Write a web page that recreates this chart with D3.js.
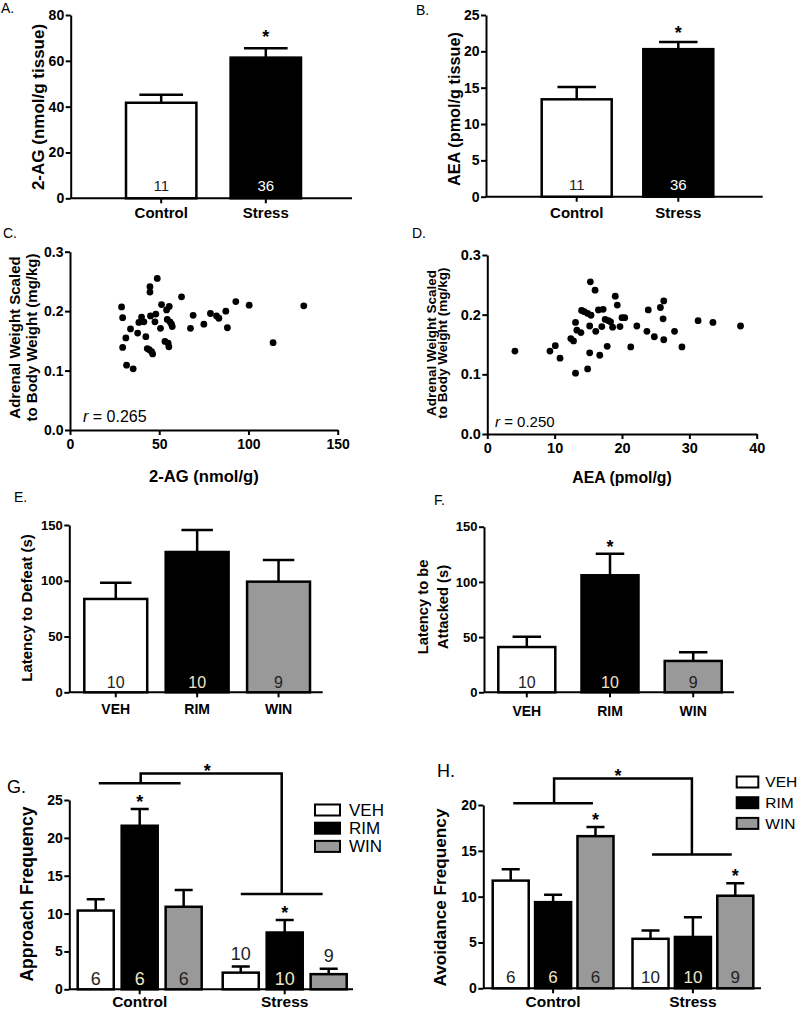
<!DOCTYPE html>
<html lang="en">
<head>
<meta charset="UTF-8">
<title>Endocannabinoids, adrenal weight and social defeat behaviour</title>
<style>
  body { margin: 0; background: #fff; }
  svg { display: block; font-family: "Liberation Sans", Arial, sans-serif; }
</style>
</head>
<body>
<div id="figure"></div>
<script src="https://d3js.org/d3.v7.min.js"></script>
<script>
// ---- values ----
const groups = ["Control", "Stress"];
const drugs = ["VEH", "RIM", "WIN"];

// A. 2-AG (nmol/g tissue)
const agMean = [41.7, 61.4];
const agSem = [3.5, 4.1];
const agN = [11, 36];
const agSig = [false, true];

// B. AEA (pmol/g tissue)
const aeaMean = [13.4, 20.3];
const aeaSem = [1.7, 1.0];
const aeaN = [11, 36];
const aeaSig = [false, true];

// C. adrenal weight vs 2-AG
const agX = [28.9, 29.5, 29.5, 31.3, 31.7, 33.9, 35.4, 37.9, 38.6, 40.1, 41.4, 42.5, 43.3, 44.4, 44.8, 44.8,
  45.1, 45.7, 46.3, 47.6, 48.1, 48.9, 50.7, 51.3, 53.2, 54.1, 54.5, 55.0, 55.4, 55.6, 56.0, 56.9, 57.3,
  62.5, 67.5, 69.0, 75.0, 78.7, 82.1, 83.4, 87.3, 88.2, 92.9, 100.4, 113.8, 131.0];
const agAdrenal = [0.207, 0.189, 0.139, 0.155, 0.109, 0.170, 0.103, 0.163, 0.181, 0.190, 0.182, 0.157, 0.137, 0.135, 0.241, 0.232,
  0.192, 0.132, 0.128, 0.182, 0.195, 0.255, 0.171, 0.211, 0.149, 0.202, 0.186, 0.146, 0.140, 0.208, 0.182, 0.178, 0.174,
  0.224, 0.171, 0.193, 0.178, 0.196, 0.192, 0.188, 0.200, 0.172, 0.216, 0.210, 0.147, 0.209];

// D. adrenal weight vs AEA
const aeaX = [4.1, 9.3, 10.1, 10.8, 12.4, 12.8, 13.1, 13.1, 13.3, 13.9, 14.0, 14.4, 14.9, 14.9, 15.2, 15.2,
  15.3, 15.4, 16.0, 16.1, 16.5, 16.7, 17.0, 17.2, 17.5, 17.8, 18.0, 18.3, 18.6, 19.0, 19.3, 19.7, 20.0,
  20.4, 21.3, 22.2, 23.7, 23.9, 24.8, 25.7, 26.1, 26.2, 26.2, 27.8, 28.9, 31.3, 33.5, 37.6];
const aeaAdrenal = [0.139, 0.139, 0.148, 0.127, 0.160, 0.156, 0.187, 0.102, 0.174, 0.170, 0.207, 0.205, 0.109, 0.202, 0.181, 0.136,
  0.255, 0.199, 0.241, 0.172, 0.208, 0.132, 0.180, 0.209, 0.192, 0.147, 0.190, 0.188, 0.179, 0.231, 0.216, 0.180, 0.195,
  0.195, 0.146, 0.181, 0.172, 0.208, 0.163, 0.212, 0.193, 0.223, 0.158, 0.172, 0.146, 0.190, 0.187, 0.181];

// E. latency to defeat (s)
const defeatMean = [83.7, 125.8, 99.2];
const defeatSem = [14.6, 19.7, 19.4];
const defeatN = [10, 10, 9];
const defeatSig = [false, false, false];

// F. latency to be attacked (s)
const attackMean = [41.0, 106.0, 28.4];
const attackSem = [9.4, 19.6, 7.8];
const attackN = [10, 10, 9];
const attackSig = [false, true, false];

// G. approach frequency
const approachMean = { Control: [10.4, 21.6, 10.9], Stress: [2.2, 7.5, 2.0] };
const approachSem = { Control: [1.5, 2.2, 2.2], Stress: [0.8, 1.65, 0.7] };
const approachN = { Control: [6, 6, 6], Stress: [10, 10, 9] };
const approachSig = { Control: [false, true, false], Stress: [false, true, false] };

// H. avoidance frequency
const avoidMean = { Control: [11.75, 9.4, 16.6], Stress: [5.4, 5.6, 10.1] };
const avoidSem = { Control: [1.25, 0.8, 1.0], Stress: [0.9, 2.15, 1.35] };
const avoidN = { Control: [6, 6, 6], Stress: [10, 10, 9] };
const avoidSig = { Control: [false, false, true], Stress: [false, false, true] };

// ---- drawing ----
const svg = d3.select("#figure").append("svg")
  .attr("width", 800)
  .attr("height", 1011);

const fills = { Control: "#fff", Stress: "#000", VEH: "#fff", RIM: "#000", WIN: "#999" };

function styleAxis(g, fs) {
  g.attr("font-family", null).attr("font-size", fs).attr("font-weight", "bold");
  g.select(".domain").attr("stroke", "#000").attr("stroke-width", 2);
  g.selectAll(".tick line").attr("stroke", "#000").attr("stroke-width", 2);
  g.selectAll(".tick text").attr("fill", "#000");
}

function yAxis(y, x, ticks, fmt, fs) {
  const g = svg.append("g")
    .attr("transform", `translate(${x},0)`)
    .call(d3.axisLeft(y).tickValues(ticks).tickFormat(fmt).tickSize(5).tickSizeOuter(0).tickPadding(1.5));
  styleAxis(g, fs);
}

function bandAxis(xs, x0, x1, yBase, fs, base) {
  const g = svg.append("g")
    .attr("transform", `translate(0,${yBase})`)
    .call(d3.axisBottom(xs).tickSize(5).tickSizeOuter(0));
  g.select(".domain").attr("d", `M${x0},0H${x1}`);
  styleAxis(g, fs);
  g.selectAll(".tick text").attr("y", base - yBase).attr("dy", 0);
}

function rotLabel(lines, xs, cy, fs) {
  lines.forEach((t, i) => svg.append("text")
    .attr("transform", `translate(${xs[i]},${cy}) rotate(-90)`)
    .attr("text-anchor", "middle")
    .attr("dy", "0.35em")
    .attr("font-size", fs)
    .attr("font-weight", "bold")
    .text(t));
}

function letter(t, x, y, fs) {
  svg.append("text").attr("x", x).attr("y", y).attr("font-size", fs).text(t);
}

// rows: {x, mean, sem, n, sig, fill}
function drawBars(rows, bw, y, o) {
  const g = svg.append("g");
  g.selectAll("path").data(rows).join("path")
    .attr("d", d => {
      const cx = d.x + bw / 2, c = bw * o.cap / 2, top = y(d.mean + d.sem);
      return `M${cx},${y(d.mean)}V${top}M${cx - c},${top}H${cx + c}`;
    })
    .attr("fill", "none").attr("stroke", "#000").attr("stroke-width", 2.5);

  g.selectAll("rect").data(rows).join("rect")
    .attr("x", d => d.x)
    .attr("y", d => y(d.mean))
    .attr("width", bw)
    .attr("height", d => y(0) - y(d.mean))
    .attr("fill", d => d.fill)
    .attr("stroke", "#000")
    .attr("stroke-width", 2.5);

  // group sizes sit inside the bar, or above it when the bar is too short
  g.selectAll(".n").data(rows).join("text")
    .attr("class", "n")
    .attr("x", d => d.x + bw / 2)
    .attr("y", d => (y(0) - y(d.mean) > 22) ? y(0) - o.nGap : y(d.mean + d.sem) - 7)
    .attr("text-anchor", "middle")
    .attr("font-size", o.nFs)
    .attr("fill", d => (d.fill === "#000" && y(0) - y(d.mean) > 22) ? o.darkText : "#222")
    .text(d => d.n);

  g.selectAll(".star").data(rows.filter(d => d.sig)).join("text")
    .attr("class", "star")
    .attr("x", d => d.x + bw / 2)
    .attr("y", d => y(d.mean + d.sem) - o.starGap)
    .attr("text-anchor", "middle")
    .attr("font-size", 18)
    .attr("font-weight", "bold")
    .text("*");
}

function barPanel(p) {
  const x = d3.scaleBand(p.cats, p.band).paddingInner(p.pad).paddingOuter(0);
  const y = d3.scaleLinear([0, p.max], [p.yBot, p.yTop]);
  yAxis(y, p.x0, p.ticks, d3.format("d"), p.tickFs);
  bandAxis(x, p.x0, p.x1, p.yBot, p.catFs, p.catBase);
  const rows = p.cats.map((c, i) => ({
    x: x(c), mean: p.mean[i], sem: p.sem[i], n: p.n[i], sig: p.sig[i], fill: fills[c]
  }));
  drawBars(rows, x.bandwidth(), y, p);
  rotLabel(p.yLabel, p.yLabelX, p.yLabelY, p.yLabelFs);
}

function groupedPanel(p) {
  const outer = d3.scaleBand(groups, p.band).paddingInner(p.pad).paddingOuter(0);
  const inner = d3.scaleBand(drugs, [0, outer.bandwidth()]).paddingInner(p.innerPad).paddingOuter(0);
  const y = d3.scaleLinear([0, p.max], [p.yBot, p.yTop]);
  yAxis(y, p.x0, p.ticks, d3.format("d"), p.tickFs);
  bandAxis(outer, p.x0, p.x1, p.yBot, p.catFs, p.catBase);
  const rows = groups.flatMap(g => drugs.map((dr, i) => ({
    x: outer(g) + inner(dr), mean: p.mean[g][i], sem: p.sem[g][i], n: p.n[g][i], sig: p.sig[g][i], fill: fills[dr]
  })));
  drawBars(rows, inner.bandwidth(), y, p);
  rotLabel(p.yLabel, p.yLabelX, p.yLabelY, p.yLabelFs);

  // interaction bracket between the two groups
  const cC = outer("Control") + outer.bandwidth() / 2;
  const cS = outer("Stress") + outer.bandwidth() / 2;
  const hw = outer.bandwidth() * 0.33;
  const b = p.bracket;
  svg.append("path")
    .attr("d", `M${cC - hw},${y(b.control)}H${cC + hw}M${cC + p.bkOff[0]},${y(b.control)}V${y(b.top)}H${cS + p.bkOff[1]}V${y(b.stress)}M${cS - hw + p.bkOff[1]},${y(b.stress)}H${cS + hw + p.bkOff[1]}`)
    .attr("fill", "none").attr("stroke", "#000").attr("stroke-width", 2.5);
  svg.append("text")
    .attr("x", (cC + cS) / 2 - 5)
    .attr("y", y(b.top) + 4)
    .attr("text-anchor", "middle")
    .attr("font-size", 18).attr("font-weight", "bold")
    .text("*");

  // legend
  const lg = svg.append("g").selectAll("g").data(drugs).join("g")
    .attr("transform", (d, i) => `translate(${p.legX},${p.legY + i * p.legStep})`);
  lg.append("rect")
    .attr("x", 0).attr("y", -5.5).attr("width", p.legW).attr("height", 11)
    .attr("fill", d => fills[d]).attr("stroke", "#000").attr("stroke-width", 2);
  lg.append("text")
    .attr("x", p.legW + p.legGap).attr("y", 0).attr("dy", "0.35em")
    .attr("font-size", p.legFs)
    .text(d => d);
}

function scatterPanel(p) {
  const x = d3.scaleLinear([0, p.xMax], [p.x0, p.x1]);
  const y = d3.scaleLinear([0, 0.3], [p.yBot, p.yTop]);
  yAxis(y, p.x0, [0, 0.1, 0.2, 0.3], d3.format(".1f"), p.tickFs);
  const gx = svg.append("g")
    .attr("transform", `translate(0,${p.yBot})`)
    .call(d3.axisBottom(x).tickValues(p.xTicks).tickSize(5).tickSizeOuter(0).tickPadding(4));
  styleAxis(gx, p.tickFs);

  svg.append("g").selectAll("circle")
    .data(p.xs.map((v, i) => [v, p.ys[i]]))
    .join("circle")
    .attr("cx", d => x(d[0]))
    .attr("cy", d => y(d[1]))
    .attr("r", 3.4)
    .attr("fill", "#000");

  const t = svg.append("text").attr("x", p.rX).attr("y", p.rY).attr("font-size", p.rFs);
  t.append("tspan").attr("font-style", "italic").text("r");
  t.append("tspan").text(" = " + p.r);

  svg.append("text")
    .attr("x", (p.x0 + p.x1) / 2).attr("y", p.xLabelY)
    .attr("text-anchor", "middle")
    .attr("font-size", p.xLabelFs).attr("font-weight", "bold")
    .text(p.xLabel);
  rotLabel(["Adrenal Weight Scaled", "to Body Weight (mg/kg)"], p.yLabelX, p.yLabelY, p.yLabelFs);
}

// A
barPanel({
  cats: groups, mean: agMean, sem: agSem, n: agN, sig: agSig,
  x0: 70.7, x1: 352, yTop: 15, yBot: 198.3, max: 80, ticks: [0, 20, 40, 60, 80],
  band: [126, 301], pad: 0.327, tickFs: 14, catFs: 15, catBase: 218,
  cap: 0.62, nFs: 15, nGap: 7, darkText: "#fff", starGap: 5,
  yLabel: ["2-AG (nmol/g tissue)"], yLabelX: [38], yLabelY: 107, yLabelFs: 17
});
letter("A.", 1, 13, 14);

// B
barPanel({
  cats: groups, mean: aeaMean, sem: aeaSem, n: aeaN, sig: aeaSig,
  x0: 486, x1: 762.7, yTop: 15, yBot: 196.7, max: 25, ticks: [0, 5, 10, 15, 20, 25],
  band: [541.7, 713.3], pad: 0.311, tickFs: 14, catFs: 15, catBase: 218,
  cap: 0.55, nFs: 15, nGap: 7, darkText: "#fff", starGap: 3,
  yLabel: ["AEA (pmol/g tissue)"], yLabelX: [454], yLabelY: 109, yLabelFs: 16.3
});
letter("B.", 416, 15, 14);

// C
scatterPanel({
  xs: agX, ys: agAdrenal, xMax: 150, xTicks: [0, 50, 100, 150],
  x0: 70, x1: 337.7, yTop: 251.7, yBot: 430, tickFs: 14,
  r: "0.265", rX: 83, rY: 421.5, rFs: 16,
  xLabel: "2-AG (nmol/g)", xLabelY: 482, xLabelFs: 16.6,
  yLabelX: [15, 32], yLabelY: 337.5, yLabelFs: 15
});
letter("C.", 3, 238, 14);

// D
scatterPanel({
  xs: aeaX, ys: aeaAdrenal, xMax: 40, xTicks: [0, 10, 20, 30, 40],
  x0: 487.3, x1: 756.7, yTop: 255, yBot: 434, tickFs: 14.5,
  r: "0.250", rX: 495, rY: 426.5, rFs: 15,
  xLabel: "AEA (pmol/g)", xLabelY: 483, xLabelFs: 15.8,
  yLabelX: [431, 442.5], yLabelY: 343, yLabelFs: 13.5
});
letter("D.", 412, 238, 14);

// E
barPanel({
  cats: drugs, mean: defeatMean, sem: defeatSem, n: defeatN, sig: defeatSig,
  x0: 69.3, x1: 322.7, yTop: 525, yBot: 692.3, max: 150, ticks: [0, 50, 100, 150],
  band: [84.3, 310], pad: 0.227, tickFs: 13, catFs: 14, catBase: 714,
  cap: 0.5, nFs: 16, nGap: 4.5, darkText: "#efe6c6", starGap: 2,
  yLabel: ["Latency to Defeat (s)"], yLabelX: [27], yLabelY: 608, yLabelFs: 15
});
letter("E.", 14, 502, 14);

// F
barPanel({
  cats: drugs, mean: attackMean, sem: attackSem, n: attackN, sig: attackSig,
  x0: 484, x1: 734, yTop: 526.7, yBot: 692.3, max: 150, ticks: [0, 50, 100, 150],
  band: [498.3, 721.7], pad: 0.315, tickFs: 13, catFs: 14, catBase: 716,
  cap: 0.5, nFs: 16, nGap: 4.5, darkText: "#efe6c6", starGap: 1,
  yLabel: ["Latency to be", "Attacked (s)"], yLabelX: [423, 443], yLabelY: 607, yLabelFs: 14.7
});
letter("F.", 434, 505, 14);

// G
groupedPanel({
  mean: approachMean, sem: approachSem, n: approachN, sig: approachSig,
  x0: 69.3, x1: 353, yTop: 800, yBot: 989.3, max: 25, ticks: [0, 5, 10, 15, 20, 25],
  band: [77.7, 346.7], pad: 0.145, innerPad: 0.18, tickFs: 14, catFs: 15.5, catBase: 1007,
  cap: 0.5, nFs: 18, nGap: 4.5, darkText: "#efe6c6", starGap: 1,
  bracket: { control: 27.2, top: 28.5, stress: 12.6 }, bkOff: [1, -3],
  legX: 315, legY: 810, legStep: 18.2, legW: 25, legGap: 9, legFs: 17,
  yLabel: ["Approach Frequency"], yLabelX: [27], yLabelY: 894, yLabelFs: 17.5
});
letter("G.", 7, 793, 18);

// H
groupedPanel({
  mean: avoidMean, sem: avoidSem, n: avoidN, sig: avoidSig,
  x0: 483.3, x1: 761, yTop: 805, yBot: 988.3, max: 20, ticks: [0, 5, 10, 15, 20],
  band: [492.7, 753.3], pad: 0.136, innerPad: 0.15, tickFs: 14, catFs: 15.5, catBase: 1007,
  cap: 0.5, nFs: 17, nGap: 5, darkText: "#efe6c6", starGap: 1,
  bracket: { control: 20.2, top: 22.9, stress: 14.6 }, bkOff: [1, -1],
  legX: 736.7, legY: 782, legStep: 20.7, legW: 21.6, legGap: 7, legFs: 15.5,
  yLabel: ["Avoidance Frequency"], yLabelX: [440], yLabelY: 897.5, yLabelFs: 17.2
});
letter("H.", 437, 777, 18);
</script>
</body>
</html>
